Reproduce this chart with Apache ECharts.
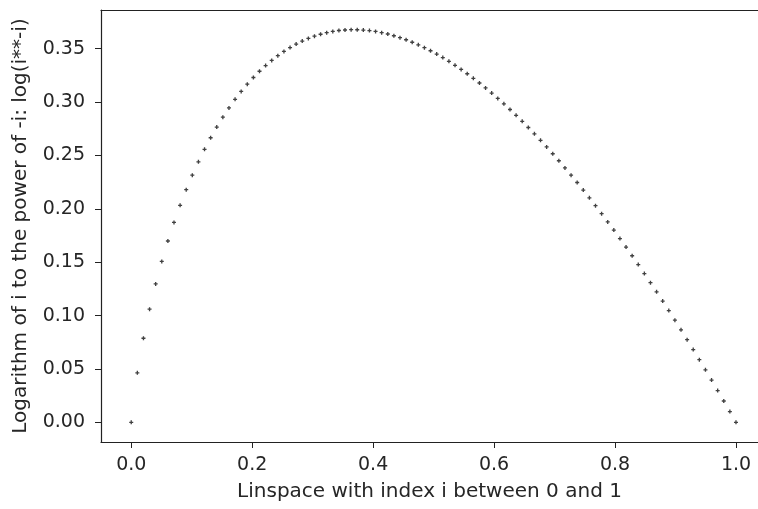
<!DOCTYPE html>
<html>
<head>
<meta charset="utf-8">
<script src="https://cdn.jsdelivr.net/npm/echarts@6/dist/echarts.min.js"></script>
<style>
  html, body { margin: 0; padding: 0; background: #fff; }
  #chart { width: 758px; height: 509px; }
</style>
</head>
<body>
<div id="chart"></div>
<script>
// i values (linspace 0..1, 100 points)
const xValues = [
  0, 0.0101, 0.0202, 0.0303, 0.0404, 0.0505, 0.0606, 0.0707, 0.0808, 0.0909,
  0.1010, 0.1111, 0.1212, 0.1313, 0.1414, 0.1515, 0.1616, 0.1717, 0.1818, 0.1919,
  0.2020, 0.2121, 0.2222, 0.2323, 0.2424, 0.2525, 0.2626, 0.2727, 0.2828, 0.2929,
  0.3030, 0.3131, 0.3232, 0.3333, 0.3434, 0.3535, 0.3636, 0.3737, 0.3838, 0.3939,
  0.4040, 0.4141, 0.4242, 0.4343, 0.4444, 0.4545, 0.4646, 0.4747, 0.4848, 0.4949,
  0.5051, 0.5152, 0.5253, 0.5354, 0.5455, 0.5556, 0.5657, 0.5758, 0.5859, 0.5960,
  0.6061, 0.6162, 0.6263, 0.6364, 0.6465, 0.6566, 0.6667, 0.6768, 0.6869, 0.6970,
  0.7071, 0.7172, 0.7273, 0.7374, 0.7475, 0.7576, 0.7677, 0.7778, 0.7879, 0.7980,
  0.8081, 0.8182, 0.8283, 0.8384, 0.8485, 0.8586, 0.8687, 0.8788, 0.8889, 0.8990,
  0.9091, 0.9192, 0.9293, 0.9394, 0.9495, 0.9596, 0.9697, 0.9798, 0.9899, 1.0
]
// log(i**-i)
const yValues = [
  0, 0.0464, 0.0788, 0.1060, 0.1297, 0.1508, 0.1699, 0.1873, 0.2033, 0.2180,
  0.2316, 0.2441, 0.2558, 0.2666, 0.2766, 0.2859, 0.2946, 0.3026, 0.3100, 0.3168,
  0.3231, 0.3289, 0.3342, 0.3391, 0.3435, 0.3475, 0.3511, 0.3544, 0.3572, 0.3597,
  0.3618, 0.3636, 0.3651, 0.3662, 0.3671, 0.3676, 0.3679, 0.3678, 0.3675, 0.3670,
  0.3662, 0.3651, 0.3638, 0.3622, 0.3604, 0.3584, 0.3561, 0.3537, 0.3510, 0.3481,
  0.3450, 0.3417, 0.3382, 0.3345, 0.3306, 0.3266, 0.3223, 0.3179, 0.3133, 0.3085,
  0.3035, 0.2984, 0.2931, 0.2876, 0.2820, 0.2762, 0.2703, 0.2642, 0.2580, 0.2516,
  0.2451, 0.2384, 0.2316, 0.2247, 0.2176, 0.2103, 0.2030, 0.1955, 0.1878, 0.1801,
  0.1722, 0.1642, 0.1561, 0.1478, 0.1394, 0.1309, 0.1223, 0.1136, 0.1047, 0.0957,
  0.0867, 0.0775, 0.0682, 0.0587, 0.0492, 0.0396, 0.0298, 0.0200, 0.0101, 0
]
const xTicks = [0, 0.2, 0.4, 0.6, 0.8, 1.0]
const yTicks = [0, 0.05, 0.10, 0.15, 0.20, 0.25, 0.30, 0.35]

const chart = echarts.init(document.getElementById('chart'), null, { renderer: 'canvas' })
const txt = '#262626'
const font = 'DejaVu Sans'
const lineCol = '#222'

chart.setOption({
  animation: false,
  grid: { left: 101, right: 0, top: 10, bottom: 67 },
  xAxis: [{
    type: 'value',
    min: -0.05, max: 1.0364,
    name: 'Linspace with index i between 0 and 1',
    nameLocation: 'middle',
    nameGap: 40,
    nameTextStyle: { color: txt, fontSize: 20, fontFamily: font },
    axisLine: { show: true, onZero: false, lineStyle: { color: lineCol, width: 1.2 } },
    axisTick: { show: true, length: 6, customValues: xTicks, lineStyle: { color: lineCol } },
    axisLabel: {
      customValues: xTicks, margin: 14, color: txt, fontSize: 19, fontFamily: font,
      formatter: v => v.toFixed(1)
    },
    splitLine: { show: false }
  }, {
    // top frame line
    type: 'value', position: 'top',
    min: -0.05, max: 1.0364,
    axisLine: { show: true, onZero: false, lineStyle: { color: lineCol, width: 1.2 } },
    axisTick: { show: false }, axisLabel: { show: false }, splitLine: { show: false }
  }],
  yAxis: {
    type: 'value',
    min: -0.0184, max: 0.3863,
    name: 'Logarithm of i to the power of -i: log(i**-i)',
    nameLocation: 'middle',
    nameGap: 70,
    nameTextStyle: { color: txt, fontSize: 20, fontFamily: font },
    axisLine: { show: true, onZero: false, lineStyle: { color: lineCol, width: 1.2 } },
    axisTick: { show: true, length: 6, customValues: yTicks, lineStyle: { color: lineCol } },
    axisLabel: {
      customValues: yTicks, margin: 16, color: txt, fontSize: 19, fontFamily: font,
      formatter: v => v.toFixed(2)
    },
    splitLine: { show: false }
  },
  series: [{
    type: 'scatter',
    data: xValues.map((x, i) => [x, yValues[i]]),
    symbol: 'path://M1 0H2V1H3V2H2V3H1V2H0V1H1Z',
    symbolSize: 4,
    itemStyle: { color: '#111' }
  }]
})
</script>
</body>
</html>
